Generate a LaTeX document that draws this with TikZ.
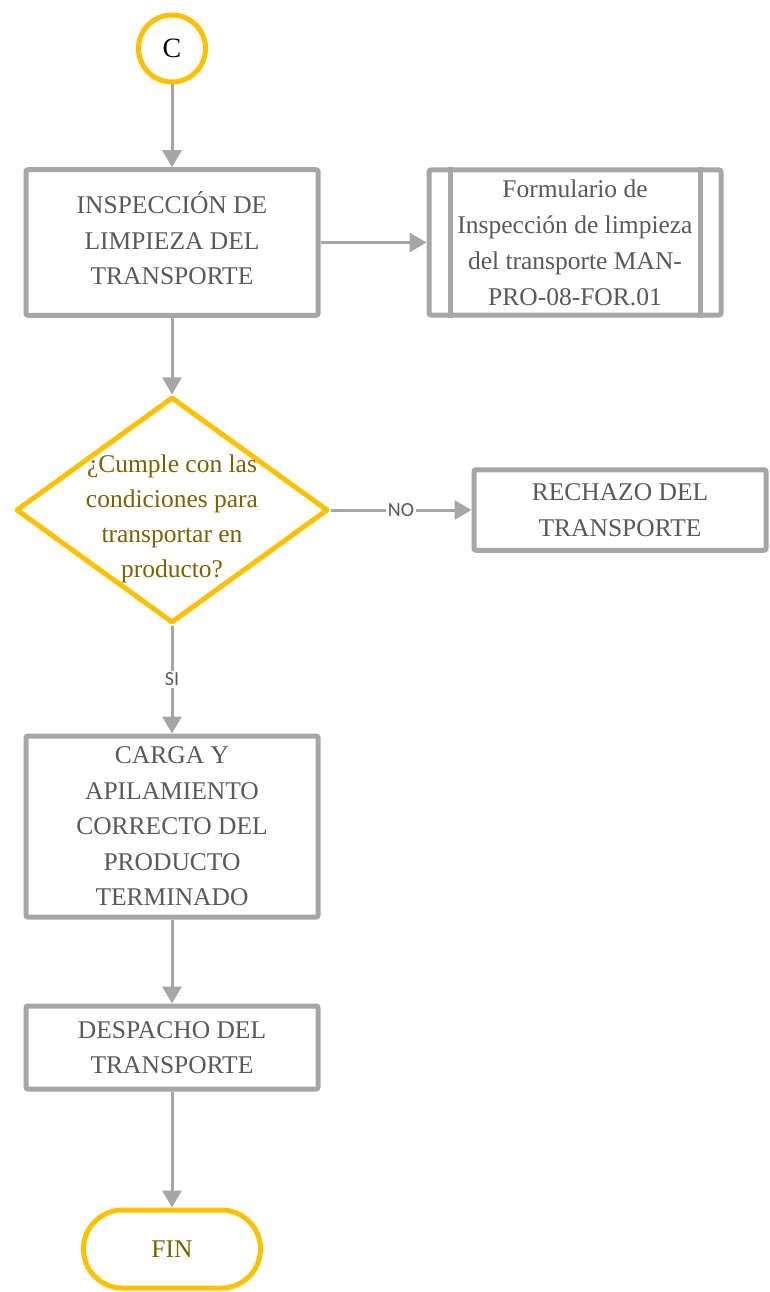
\documentclass[tikz,border=0pt]{standalone}
\usepackage{fontspec}
\setmainfont{Liberation Serif}
\newfontfamily\etiqfont{Carlito}
\usetikzlibrary{shapes.geometric,arrows.meta,calc}

\definecolor{amarillo}{HTML}{FFC000}
\definecolor{gris}{HTML}{A6A6A6}
\definecolor{textogris}{HTML}{595959}
\definecolor{dorado}{HTML}{7F6000}

\begin{document}
\begin{tikzpicture}[x=1pt, y=-1pt,
  proceso/.style={draw=gris, line width=5pt, rounded corners=2pt, fill=white,
    text=textogris, align=center, font=\fontsize{25.5}{35.5}\selectfont,
    minimum width=292pt, inner sep=0pt},
  decision/.style={diamond, draw=amarillo, line width=5pt, line join=round,
    text=dorado, align=center, font=\fontsize{25.5}{35}\selectfont,
    minimum width=312pt, minimum height=226pt, inner sep=-30pt},
  terminal/.style={draw=amarillo, line width=5pt, inner sep=0pt},
  flecha/.style={draw=gris, line width=3pt, -{Triangle[length=17pt,width=19pt]}},
  etiqueta/.style={fill=white, text=textogris, inner sep=1.5pt,
    font=\etiqfont\fontsize{20}{20}\selectfont}]

  % marco
  \useasboundingbox (0,0) rectangle (769,1292);

  % x de la columna principal
  \def \cx{172};

  % conector inicial
  \node[terminal, circle, minimum size=67pt, font=\fontsize{28}{30}\selectfont]
    (C) at (\cx,48.5) {C};

  % procesos
  \node[proceso, minimum height=145.5pt] (inspeccion) at (\cx,242.5)
    {INSPECCIÓN DE\\LIMPIEZA DEL\\TRANSPORTE\rule[-8pt]{0pt}{8pt}};
  \node[proceso, minimum height=145pt, font=\fontsize{25.5}{36}\selectfont]
    (formulario) at (575,242.5)
    {Formulario de\\Inspección de limpieza\\del transporte MAN-\\PRO-08-FOR.01};
  \draw[gris, line width=5pt]
    ($(formulario.north west)+(23.5,0)$) -- ($(formulario.south west)+(23.5,0)$);
  \draw[gris, line width=5pt]
    ($(formulario.north east)+(-23.5,0)$) -- ($(formulario.south east)+(-23.5,0)$);

  % decision
  \node[decision] (cumple) at (\cx,510)
    {\rule{0pt}{35pt}¿Cumple con las\\condiciones para\\transportar en\\producto?};
  \node[proceso, minimum height=80.5pt] (rechazo) at (620,510)
    {RECHAZO DEL\\TRANSPORTE};

  \node[proceso, minimum height=181pt] (carga) at (\cx,826.5)
    {CARGA Y\\APILAMIENTO\\CORRECTO DEL\\PRODUCTO\\TERMINADO};
  \node[proceso, minimum height=83pt] (despacho) at (\cx,1047.5)
    {DESPACHO DEL\\TRANSPORTE};

  % fin
  \node[terminal, rounded corners=39pt, minimum width=177pt, minimum height=78pt,
    text=dorado, font=\fontsize{25.5}{30}\selectfont] (fin) at (\cx,1249) {FIN};

  % flechas
  \draw[flecha] (C) -- (inspeccion);
  \draw[flecha] (inspeccion) -- (formulario);
  \draw[flecha] (inspeccion) -- (cumple);
  \draw[flecha] (cumple) -- node[etiqueta] {NO} (rechazo);
  \draw[flecha] (cumple) -- node[etiqueta] {SI} (carga);
  \draw[flecha] (carga) -- (despacho);
  \draw[flecha] (despacho) -- (fin);

\end{tikzpicture}
\end{document}
